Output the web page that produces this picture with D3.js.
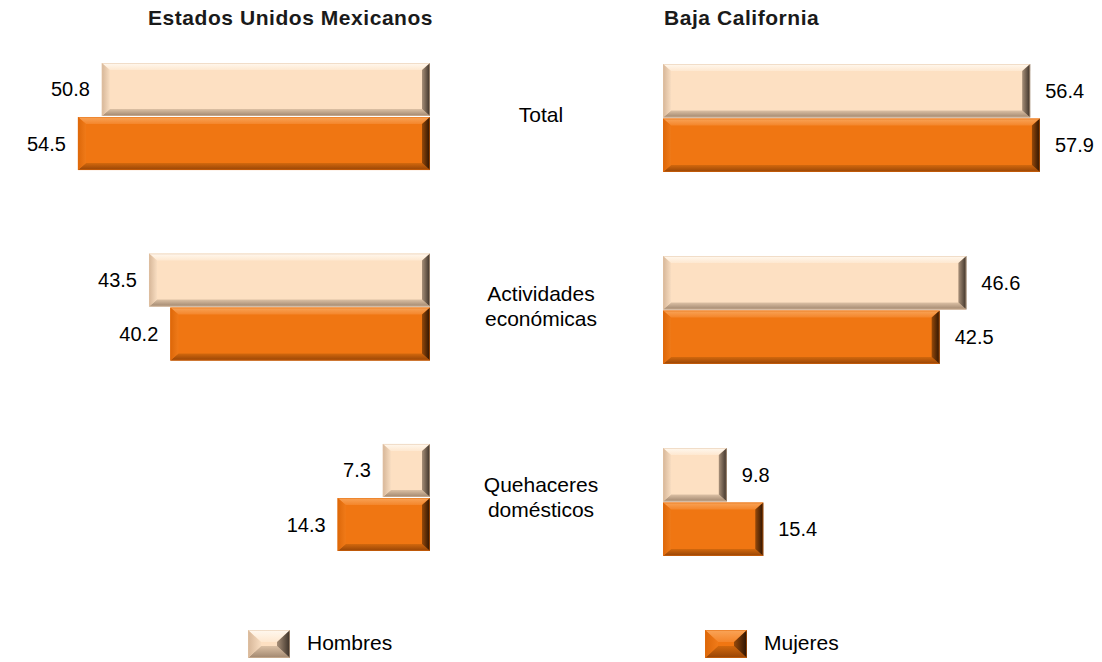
<!DOCTYPE html>
<html>
<head>
<meta charset="utf-8">
<script src="https://cdn.jsdelivr.net/npm/d3@7"></script>
<style>
  html, body { margin: 0; padding: 0; background: #ffffff; }
  svg { display: block; font-family: "Liberation Sans", Arial, sans-serif; }
</style>
</head>
<body>
<svg id="chart" width="1102" height="662"></svg>
<script>
// ---- data ----
const categories = ["Total", "Actividades económicas", "Quehaceres domésticos"];
const categoryLines = [["Total"], ["Actividades", "económicas"], ["Quehaceres", "domésticos"]];
const seriesNames = ["Hombres", "Mujeres"];
const panelTitles = ["Estados Unidos Mexicanos", "Baja California"];
const nacionalHombres = [50.8, 43.5, 7.3];
const nacionalMujeres = [54.5, 40.2, 14.3];
const bajaHombres = [56.4, 46.6, 9.8];
const bajaMujeres = [57.9, 42.5, 15.4];

// ---- setup ----
const svg = d3.select("#chart");
const defs = svg.append("defs");

const palettes = {
  Hombres: {
    face: "#FDE0C2", stroke: "#E3C3A3",
    top: ["#FFF8EF", "#FEE8D0"], left: ["#D6B698", "#F8DDC1"],
    right: ["#A89079", "#3A2F26"], bottom: ["#DCC1A5", "#A0866E"]
  },
  Mujeres: {
    face: "#F07612", stroke: "#E46C0C",
    top: ["#F9A458", "#F4852A"], left: ["#DC6709", "#F07A18"],
    right: ["#96490A", "#2A1202"], bottom: ["#D2680D", "#964406"]
  }
};

function grad(id, c, vertical) {
  const g = defs.append("linearGradient").attr("id", id)
    .attr("x1", 0).attr("y1", 0)
    .attr("x2", vertical ? 0 : 1).attr("y2", vertical ? 1 : 0);
  g.append("stop").attr("offset", "0%").attr("stop-color", c[0]);
  g.append("stop").attr("offset", "100%").attr("stop-color", c[1]);
}
Object.entries(palettes).forEach(([k, p]) => {
  grad(k + "-top", p.top, true);
  grad(k + "-bottom", p.bottom, true);
  grad(k + "-left", p.left, false);
  grad(k + "-right", p.right, false);
});

function bevelBar(g, x0, y0, x1, y1, bx, by, key) {
  const p = palettes[key];
  const pts = a => a.map(d => d.join(",")).join(" ");
  g.append("rect").attr("x", x0).attr("y", y0)
    .attr("width", x1 - x0).attr("height", y1 - y0).attr("fill", p.face);
  g.append("polygon").attr("points", pts([[x0, y0], [x1, y0], [x1 - bx, y0 + by], [x0 + bx, y0 + by]]))
    .attr("fill", `url(#${key}-top)`);
  g.append("polygon").attr("points", pts([[x0, y1], [x1, y1], [x1 - bx, y1 - by], [x0 + bx, y1 - by]]))
    .attr("fill", `url(#${key}-bottom)`);
  g.append("polygon").attr("points", pts([[x0, y0], [x0 + bx, y0 + by], [x0 + bx, y1 - by], [x0, y1]]))
    .attr("fill", `url(#${key}-left)`);
  g.append("polygon").attr("points", pts([[x1, y0], [x1 - bx, y0 + by], [x1 - bx, y1 - by], [x1, y1]]))
    .attr("fill", `url(#${key}-right)`);
  g.append("rect").attr("x", x0 + 0.5).attr("y", y0 + 0.5)
    .attr("width", x1 - x0 - 1).attr("height", y1 - y0 - 1)
    .attr("fill", "none").attr("stroke", p.stroke).attr("stroke-opacity", 0.5).attr("stroke-width", 1);
}

// ---- panels ----
const panels = [
  { title: panelTitles[0], values: [nacionalHombres, nacionalMujeres], dir: -1,
    x: d3.scaleLinear().domain([0, 60]).range([430, 430 - 60 * 6.46]),
    y: d3.scaleBand().domain(categories).range([63, 551]).paddingInner(0.438).paddingOuter(0),
    titleX: 148 },
  { title: panelTitles[1], values: [bajaHombres, bajaMujeres], dir: 1,
    x: d3.scaleLinear().domain([0, 60]).range([663, 663 + 60 * 6.51]),
    y: d3.scaleBand().domain(categories).range([64, 556]).paddingInner(0.4375).paddingOuter(0),
    titleX: 664 }
];

panels.forEach(pn => {
  const g = svg.append("g");
  g.append("text").attr("x", pn.titleX).attr("y", 25)
    .attr("font-size", 21).attr("font-weight", "bold").attr("letter-spacing", 0.55)
    .attr("fill", "#1a1a1a").text(pn.title);

  const sub = d3.scaleBand().domain(seriesNames).range([0, pn.y.bandwidth()]).paddingInner(0.02);

  categories.forEach((cat, ci) => {
    seriesNames.forEach((s, si) => {
      const v = pn.values[si][ci];
      const y0 = pn.y(cat) + sub(s);
      const y1 = y0 + sub.bandwidth();
      const xa = pn.x(0), xb = pn.x(v);
      const x0 = Math.min(xa, xb), x1 = Math.max(xa, xb);
      bevelBar(g.append("g"), x0, y0, x1, y1, 8, 7, s);
      g.append("text")
        .attr("x", pn.dir < 0 ? x0 - 12 : x1 + 15)
        .attr("y", (y0 + y1) / 2)
        .attr("dy", "0.35em")
        .attr("text-anchor", pn.dir < 0 ? "end" : "start")
        .attr("font-size", 20).attr("fill", "#000")
        .text(v.toFixed(1));
    });
  });
});

// ---- category labels ----
categories.forEach((cat, ci) => {
  const cy = (panels[0].y(cat) + panels[0].y.bandwidth() / 2 + panels[1].y(cat) + panels[1].y.bandwidth() / 2) / 2;
  const lines = categoryLines[ci];
  const t = svg.append("text").attr("text-anchor", "middle").attr("font-size", 21).attr("fill", "#000");
  lines.forEach((ln, li) => {
    t.append("tspan").attr("x", 541)
      .attr("y", cy + (li - (lines.length - 1) / 2) * 25 + 5)
      .text(ln);
  });
});

// ---- legend ----
const legendX = [248, 705];
seriesNames.forEach((s, i) => {
  const g = svg.append("g");
  bevelBar(g, legendX[i], 630, legendX[i] + 42, 658, 13, 12, s);
  g.append("text").attr("x", legendX[i] + 59).attr("y", 650)
    .attr("font-size", 21).attr("fill", "#000").text(s);
});
</script>
</body>
</html>
